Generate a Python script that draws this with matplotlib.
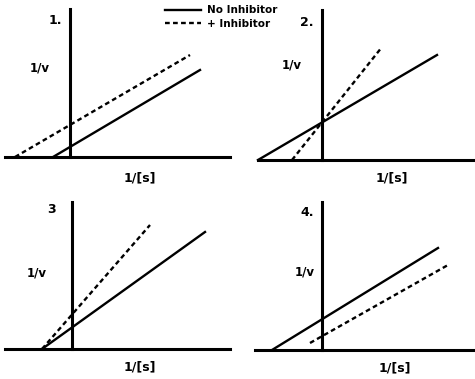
import matplotlib
matplotlib.use("Agg")
import matplotlib.pyplot as plt

# Lineweaver-Burk lines: endpoints in 1/[s], 1/v units (axes cross at 0,0)
p1_x_none = [-1.7, 13.0]
p1_y_none = [0.0, 8.7]
p1_x_inh = [-5.5, 12.0]
p1_y_inh = [0.0, 10.2]

p2_x_none = [-6.4, 11.5]
p2_y_none = [0.0, 10.5]
p2_x_inh = [-3.0, 6.0]
p2_y_inh = [0.0, 11.3]

p3_x_none = [-3.0, 13.3]
p3_y_none = [0.0, 11.7]
p3_x_inh = [-3.0, 7.8]
p3_y_inh = [0.0, 12.4]

p4_x_none = [-5.0, 11.6]
p4_y_none = [0.0, 10.2]
p4_x_inh = [-1.2, 12.6]
p4_y_inh = [0.7, 8.5]

panel_names = ["1.", "2.", "3", "4."]
legend_labels = ["No Inhibitor", "+ Inhibitor"]

W, H = 475, 379
fig = plt.figure(figsize=(W / 100, H / 100), dpi=100)


def add_panel(px0, px1, py0, py1, xlim, ylim):
    # pixel box (y down) -> figure fraction
    ax = fig.add_axes([px0 / W, 1 - py1 / H, (px1 - px0) / W, (py1 - py0) / H])
    ax.set_xlim(*xlim)
    ax.set_ylim(*ylim)
    for s in ["top", "right"]:
        ax.spines[s].set_visible(False)
    ax.spines["left"].set_position(("data", 0))
    ax.spines["bottom"].set_position(("data", 0))
    for s in ["left", "bottom"]:
        ax.spines[s].set_linewidth(2.2)
    ax.set_xticks([])
    ax.set_yticks([])
    ax.patch.set_alpha(0)
    return ax


panels = [
    (add_panel(5, 230, 9, 157, (-6.5, 16.0), (0, 14.8)),
     p1_x_none, p1_y_none, p1_x_inh, p1_y_inh,
     (-1.5, 13.7), (-3.0, 8.9), (7.0, -2.1)),
    (add_panel(258, 475, 10, 160, (-6.4, 15.3), (0, 15.0)),
     p2_x_none, p2_y_none, p2_x_inh, p2_y_inh,
     (-1.5, 13.8), (-3.0, 9.5), (7.0, -1.8)),
    (add_panel(5, 230, 202, 349, (-6.7, 15.8), (0, 14.7)),
     p3_x_none, p3_y_none, p3_x_inh, p3_y_inh,
     (-2.0, 13.9), (-3.5, 7.6), (6.8, -1.8)),
    (add_panel(255, 475, 202, 350, (-6.7, 15.3), (0, 14.8)),
     p4_x_none, p4_y_none, p4_x_inh, p4_y_inh,
     (-1.5, 13.8), (-1.7, 7.8), (7.3, -1.8)),
]

handles = None
for i, (ax, xn, yn, xi, yi, lab_pos, v_pos, s_pos) in enumerate(panels):
    l1, = ax.plot(xn, yn, color="black", lw=1.7, clip_on=False)
    l2, = ax.plot(xi, yi, color="black", lw=1.7, ls=(0, (2.0, 1.4)), clip_on=False)
    if handles is None:
        handles = [l1, l2]
    ax.text(*lab_pos, panel_names[i], ha="center", va="center",
            fontsize=9, fontweight="bold")
    ax.text(*v_pos, "1/v", ha="center", va="center", fontsize=8.5, fontweight="bold")
    ax.text(*s_pos, "1/[s]", ha="center", va="center", fontsize=9, fontweight="bold",
            clip_on=False)

fig.legend(handles, legend_labels, loc="upper left", bbox_to_anchor=(158 / W, 1.005),
           frameon=False, handlelength=3.4, handletextpad=0.6,
           labelspacing=0.3, borderpad=0.2, prop={"weight": "bold", "size": 7.5})

fig.savefig("out.png", dpi=100)
